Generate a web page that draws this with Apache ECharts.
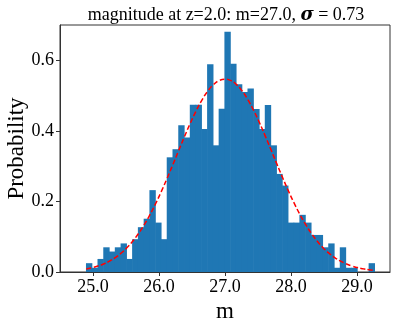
<!DOCTYPE html>
<html>
<head>
<meta charset="utf-8">
<script src="https://cdn.jsdelivr.net/npm/echarts@6/dist/echarts.min.js"></script>
<style>
  html, body { margin: 0; padding: 0; background: #fff; }
  #chart { width: 399px; height: 327px; }
</style>
</head>
<body>
<div id="chart"></div>
<script>
// histogram of magnitudes, density normalised
var binStart = 24.898;
var binWidth = 0.0874;
var density = [
  0.025, 0.012, 0.037, 0.070, 0.058, 0.070, 0.081, 0.037, 0.093, 0.127,
  0.151, 0.232, 0.140, 0.093, 0.325, 0.348, 0.416, 0.381, 0.474, 0.474,
  0.405, 0.589, 0.359, 0.463, 0.681, 0.590, 0.532, 0.510, 0.520, 0.462,
  0.405, 0.473, 0.359, 0.278, 0.245, 0.140, 0.140, 0.162, 0.140, 0.105,
  0.105, 0.070, 0.081, 0.012, 0.070, 0.012, 0.012, 0.000, 0.000, 0.025
];
// fitted normal
var mu = 27.0;
var sigma = 0.73;
var xTicks = [25, 26, 27, 28, 29];
var yTicks = [0, 0.2, 0.4, 0.6];

var font = 'Liberation Serif';

var bars = density.map(function (h, i) {
  return [binStart + i * binWidth, binStart + (i + 1) * binWidth, h];
});

var fit = [];
for (var i = 0; i <= density.length; i++) {
  var x = binStart + i * binWidth;
  var z = (x - mu) / sigma;
  fit.push([x, Math.exp(-0.5 * z * z) / (sigma * Math.sqrt(2 * Math.PI))]);
}

var chart = echarts.init(document.getElementById('chart'));
chart.setOption({
  animation: false,
  title: {
    text: 'magnitude at z=2.0: m=27.0, {s|σ} = 0.73',
    left: 221,
    top: 1,
    textAlign: 'center',
    textStyle: {
      fontFamily: font, fontSize: 18, fontWeight: 'normal', color: '#000',
      rich: { s: { fontFamily: 'DejaVu Serif', fontSize: 18, fontStyle: 'italic', fontWeight: 'bold', color: '#000' } }
    }
  },
  grid: {
    left: 60, right: 9, top: 25, bottom: 55,
    outerBoundsMode: 'none',
    containLabel: false,
    show: true, borderColor: '#333', borderWidth: 1
  },
  xAxis: {
    type: 'value',
    min: 24.5, max: 29.5,
    name: 'm',
    nameLocation: 'middle',
    nameGap: 23,
    nameTextStyle: { fontFamily: font, fontSize: 23, color: '#000' },
    axisLine: { lineStyle: { color: '#333' } },
    axisTick: { length: 4, customValues: xTicks, lineStyle: { color: '#333' } },
    axisLabel: {
      customValues: xTicks,
      fontFamily: font, fontSize: 18, color: '#000', margin: 6,
      formatter: function (v) { return v.toFixed(1); }
    },
    splitLine: { show: false }
  },
  yAxis: {
    type: 'value',
    min: 0, max: 0.70,
    name: 'Probability',
    nameLocation: 'middle',
    nameGap: 32,
    nameMoveOverlap: false,
    nameTextStyle: { fontFamily: font, fontSize: 23, color: '#000' },
    axisLine: { show: true, lineStyle: { color: '#333' } },
    axisTick: { show: true, length: 4, customValues: yTicks, lineStyle: { color: '#333' } },
    axisLabel: {
      customValues: yTicks,
      fontFamily: font, fontSize: 18, color: '#000', margin: 6,
      formatter: function (v) { return v.toFixed(1); }
    },
    splitLine: { show: false }
  },
  series: [
    {
      type: 'custom',
      data: bars,
      renderItem: function (params, api) {
        var p0 = api.coord([api.value(0), api.value(2)]);
        var p1 = api.coord([api.value(1), 0]);
        return {
          type: 'rect',
          shape: { x: p0[0] - 0.3, y: p0[1], width: p1[0] - p0[0] + 0.6, height: p1[1] - p0[1] },
          style: { fill: '#1f77b4' }
        };
      },
      z: 2
    },
    {
      type: 'line',
      data: fit,
      showSymbol: false,
      smooth: true,
      lineStyle: { color: '#ff0000', width: 1.5, type: [5, 2.5] },
      z: 3
    }
  ]
});
</script>
</body>
</html>
